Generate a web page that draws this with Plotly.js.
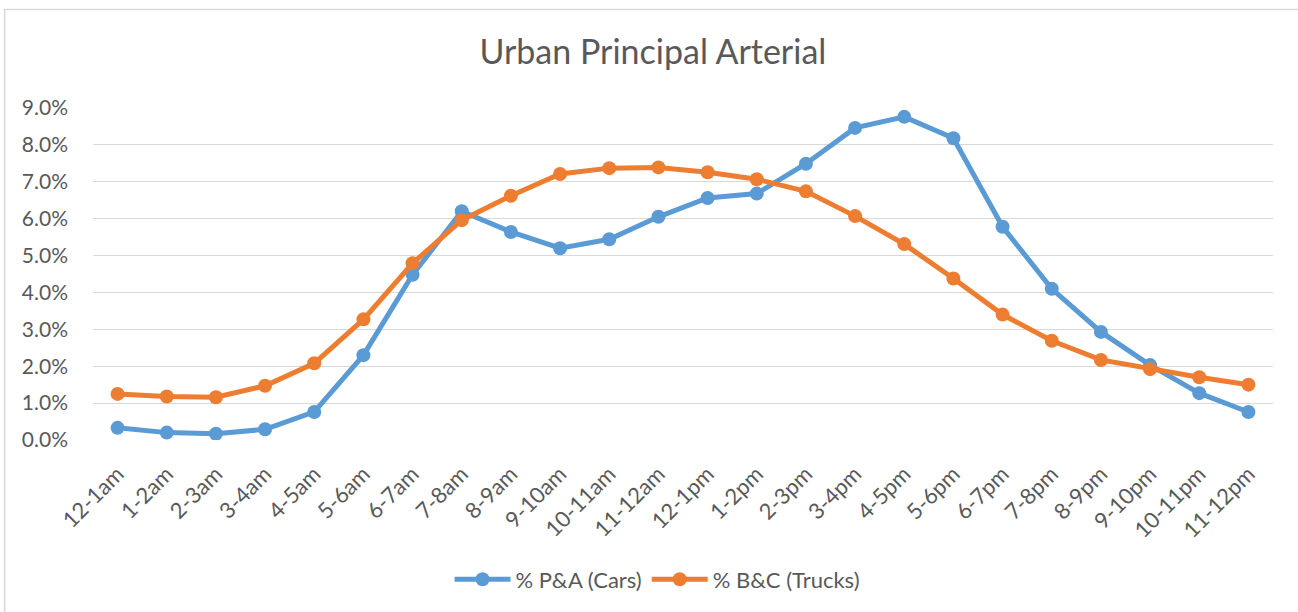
<!DOCTYPE html>
<html>
<head>
<meta charset="utf-8">
<script src="https://cdn.plot.ly/plotly-3.0.1.min.js"></script>
<style>
  html, body { margin: 0; padding: 0; background: #fff; }
  #chart { width: 1298px; height: 612px; }
</style>
</head>
<body>
<div id="chart"></div>
<script>
// hourly share of daily traffic, in percent
var hours = ["12-1am", "1-2am", "2-3am", "3-4am", "4-5am", "5-6am", "6-7am", "7-8am",
  "8-9am", "9-10am", "10-11am", "11-12am", "12-1pm", "1-2pm", "2-3pm", "3-4pm",
  "4-5pm", "5-6pm", "6-7pm", "7-8pm", "8-9pm", "9-10pm", "10-11pm", "11-12pm"];

var cars = [0.33, 0.20, 0.17, 0.29, 0.76, 2.30, 4.48, 6.20, 5.64, 5.20, 5.44, 6.05,
  6.56, 6.68, 7.49, 8.46, 8.76, 8.18, 5.78, 4.10, 2.93, 2.03, 1.27, 0.76];

var trucks = [1.25, 1.18, 1.16, 1.47, 2.08, 3.27, 4.79, 5.96, 6.62, 7.21, 7.37, 7.39,
  7.26, 7.07, 6.74, 6.07, 5.31, 4.38, 3.40, 2.69, 2.17, 1.92, 1.70, 1.50];

var textColor = "#595959";
var gridColor = "#d9d9d9";

var trace1 = {
  x: hours,
  y: cars,
  type: "scatter",
  mode: "lines+markers",
  name: "% P&A (Cars)",
  line: { color: "#5b9bd5", width: 5 },
  marker: { color: "#5b9bd5", size: 14 },
};

var trace2 = {
  x: hours,
  y: trucks,
  type: "scatter",
  mode: "lines+markers",
  name: "% B&C (Trucks)",
  line: { color: "#ed7d31", width: 5 },
  marker: { color: "#ed7d31", size: 14 },
};

var layout = {
  width: 1298,
  height: 612,
  margin: { l: 93, r: 25, t: 108, b: 170 },
  paper_bgcolor: "#fff",
  plot_bgcolor: "#fff",
  font: { family: "Lato, 'Open Sans', sans-serif", color: textColor, size: 20 },
  title: {
    text: "Urban Principal Arterial",
    font: { size: 34, color: textColor },
    x: 0.503,
    xref: "container",
    y: 0.915,
    yref: "container",
    yanchor: "middle",
  },
  xaxis: {
    type: "category",
    range: [-0.5, 23.5],
    tickangle: -45,
    showgrid: false,
    showline: false,
    ticks: "",
    ticklabelstandoff: 16,
    tickfont: { size: 22 },
  },
  yaxis: {
    range: [0, 9],
    dtick: 1,
    tickformat: ".1f",
    ticksuffix: "%",
    showgrid: true,
    gridcolor: gridColor,
    gridwidth: 1.3,
    zeroline: false,
    showline: false,
    ticks: "",
    ticklabelstandoff: 24,
    tickfont: { size: 21 },
  },
  showlegend: true,
  legend: {
    orientation: "h",
    x: 0.478,
    xanchor: "center",
    y: -0.42,
    yanchor: "middle",
    font: { size: 22 },
    itemwidth: 56,
  },
  shapes: [
    {
      type: "rect",
      xref: "paper",
      yref: "paper",
      x0: -0.0749,
      x1: 1.05,
      y0: -0.7,
      y1: 1.2965,
      line: { color: gridColor, width: 1.5 },
      fillcolor: "rgba(0,0,0,0)",
      layer: "below",
    },
  ],
};

Plotly.newPlot("chart", [trace1, trace2], layout, { displayModeBar: false });
</script>
</body>
</html>
